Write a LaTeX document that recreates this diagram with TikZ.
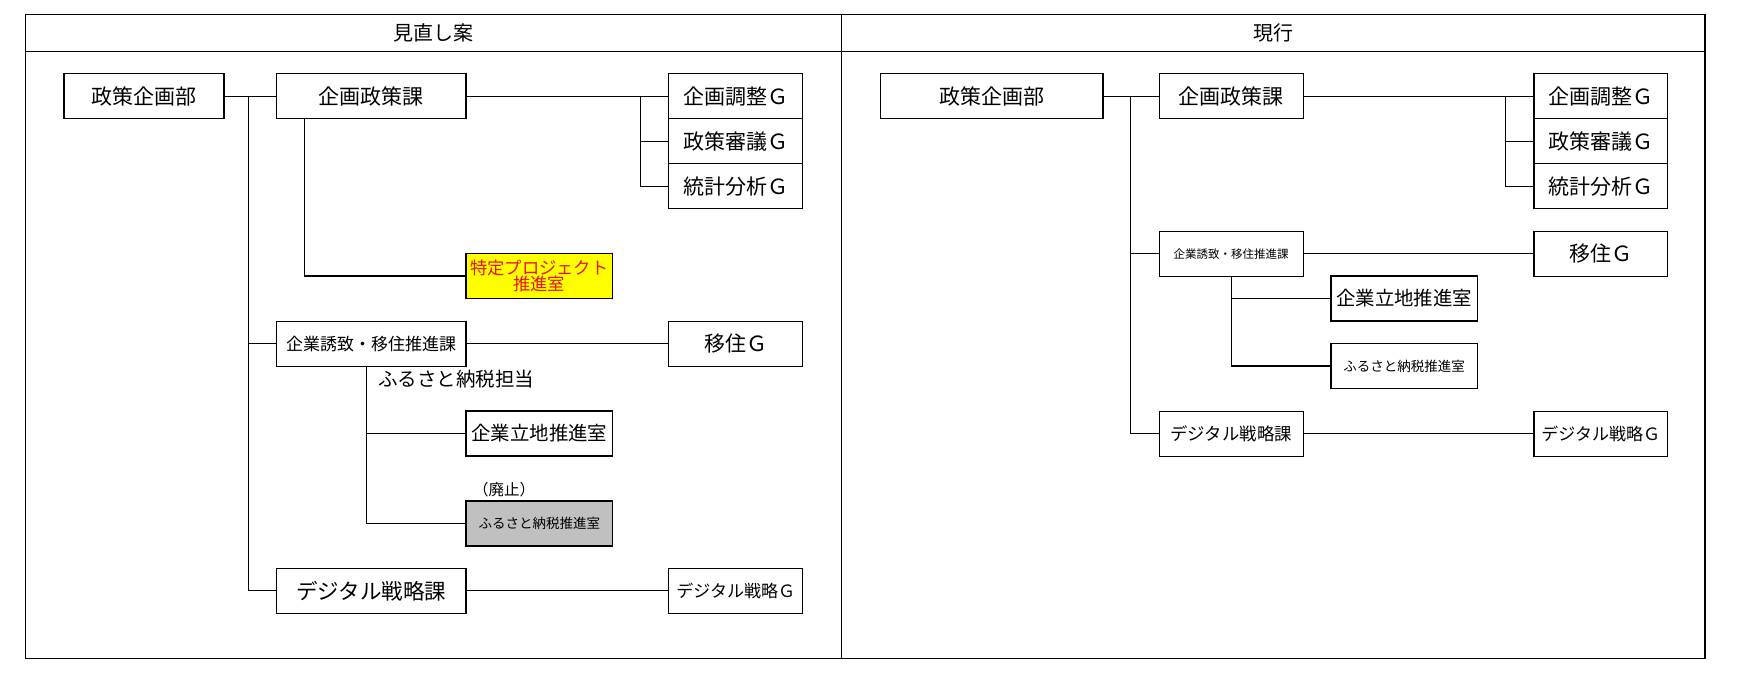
\documentclass[tikz,border=0pt]{standalone}
\usepackage{fontspec}
\setmainfont{Noto Sans CJK JP}
\definecolor{spyellow}{RGB}{255,255,0}
\definecolor{spred}{RGB}{230,20,20}
\definecolor{abgray}{RGB}{192,192,192}
\tikzset{
  box/.style={draw, line width=1.2pt, inner sep=0pt, align=center, minimum height=45, font=\fontsize{21}{23}\selectfont},
  conn/.style={line width=1.2pt},
  frame/.style={line width=1.4pt},
  fs/.style={font=\fontsize{#1}{#1}\selectfont}
}
\begin{document}
\begin{tikzpicture}[x=1pt,y=-1pt]
\useasboundingbox (0,0) rectangle (1750,694);
% frame
\draw[frame] (25.7,14.5) rectangle (1705,658.5);
\draw[frame] (25.7,51.3) -- (1705,51.3);
\draw[frame] (841.5,14.5) -- (841.5,658.5);
\node[fs=20] (hL) at (433.6,33) {見直し案};
\node[fs=20] (hR) at (1273,33) {現行};

% ===== left panel =====
\node[box, minimum width=160] (Lb1) at (144,96.2) {政策企画部};
\node[box, minimum width=189.6] (Lb2) at (371.2,96.2) {企画政策課};
\node[box, minimum width=134] (Lg1) at (735.8,96.2) {企画調整Ｇ};
\node[box, minimum width=134] (Lg2) at (735.8,141.2) {政策審議Ｇ};
\node[box, minimum width=134] (Lg3) at (735.8,186.2) {統計分析Ｇ};
\node[box, minimum width=146.5, fill=spyellow, text=spred, fs=17.3, align=center] (Lsp) at (539.3,276) {特定プロジェクト\\[-1pt]推進室};
\node[box, minimum width=189.6, fs=17] (Lb3) at (371.2,343.7) {企業誘致・移住推進課};
\node[box, minimum width=134] (Liju) at (735.8,343.7) {移住Ｇ};
\node[fs=19.5] (Lfurutan) at (456,379) {ふるさと納税担当};
\node[box, minimum width=146.5, fs=19.4] (Lritchi) at (539.3,433.5) {企業立地推進室};
\node[fs=15.5] (Lhaishi) at (504,490) {（廃止）};
\node[box, minimum width=146.5, fill=abgray, fs=13.5] (Lfuru) at (539.3,523.5) {ふるさと納税推進室};
\node[box, minimum width=189.6, fs=21.5] (Lds) at (371.2,590.8) {デジタル戦略課};
\node[box, minimum width=134, fs=17] (Ldsg) at (735.8,590.8) {デジタル戦略Ｇ};

\coordinate (Ltop) at (248.2,96.2);
\draw[conn] (Lb1.east) -- (Lb2.west);
\draw[conn] (Ltop) |- (Lds.west);
\draw[conn] (Ltop |- Lb3.west) -- (Lb3.west);
\coordinate (Lbr) at (640.7,96.2);
\draw[conn] (Lb2.east) -- (Lg1.west);
\draw[conn] (Lbr) |- (Lg3.west);
\draw[conn] (Lbr |- Lg2.west) -- (Lg2.west);
\draw[conn] ([xshift=-66.6pt]Lb2.south) |- (Lsp.west);
\draw[conn] (Lb3.east) -- (Liju.west);
\coordinate (Lsub) at ([xshift=-4.8pt]Lb3.south);
\draw[conn] (Lsub) |- (Lfuru.west);
\draw[conn] (Lsub |- Lritchi.west) -- (Lritchi.west);
\draw[conn] (Lds.east) -- (Ldsg.west);

% ===== right panel =====
\node[box, minimum width=222.4] (Rb1) at (991.8,96.2) {政策企画部};
\node[box, minimum width=144] (Rb2) at (1231.2,96.2) {企画政策課};
\node[box, minimum width=133.6] (Rg1) at (1600.8,96.2) {企画調整Ｇ};
\node[box, minimum width=133.6] (Rg2) at (1600.8,141.2) {政策審議Ｇ};
\node[box, minimum width=133.6] (Rg3) at (1600.8,186.2) {統計分析Ｇ};
\node[box, minimum width=144, fs=11.5] (Rb3) at (1231.2,253.7) {企業誘致・移住推進課};
\node[box, minimum width=133.6] (Riju) at (1600.8,253.7) {移住Ｇ};
\node[box, minimum width=146.3, fs=19.4] (Rritchi) at (1404.2,298.5) {企業立地推進室};
\node[box, minimum width=146.3, fs=13.5] (Rfuru) at (1404.2,366) {ふるさと納税推進室};
\node[box, minimum width=144, fs=17.4] (Rds) at (1231.2,433.7) {デジタル戦略課};
\node[box, minimum width=133.6, fs=17] (Rdsg) at (1600.8,433.7) {デジタル戦略Ｇ};

\coordinate (Rtop) at (1130.8,96.2);
\draw[conn] (Rb1.east) -- (Rb2.west);
\draw[conn] (Rtop) |- (Rds.west);
\draw[conn] (Rtop |- Rb3.west) -- (Rb3.west);
\coordinate (Rbr) at (1505.7,96.2);
\draw[conn] (Rb2.east) -- (Rg1.west);
\draw[conn] (Rbr) |- (Rg3.west);
\draw[conn] (Rbr |- Rg2.west) -- (Rg2.west);
\draw[conn] (Rb3.east) -- (Riju.west);
\draw[conn] (Rb3.south) |- (Rfuru.west);
\draw[conn] (Rb3.south |- Rritchi.west) -- (Rritchi.west);
\draw[conn] (Rds.east) -- (Rdsg.west);
\end{tikzpicture}
\end{document}
